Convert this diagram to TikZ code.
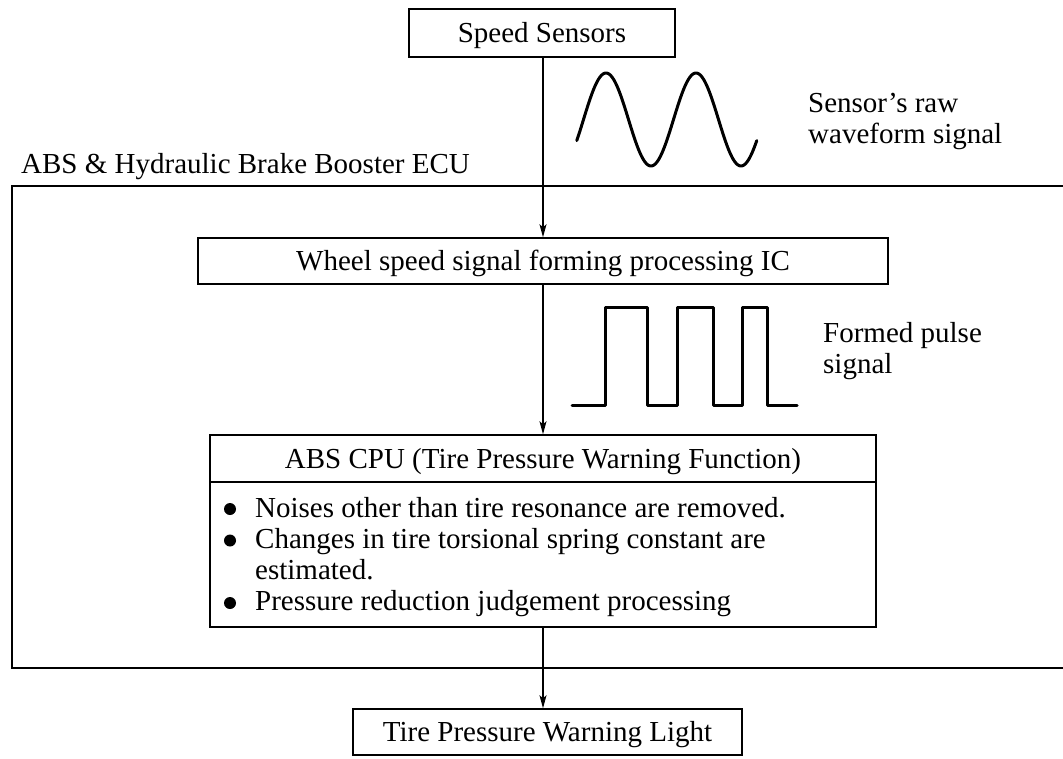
\documentclass[tikz,border=0pt]{standalone}
\usepackage{fontspec}
\setmainfont{Liberation Serif}
\usetikzlibrary{arrows.meta}
\begin{document}
\begin{tikzpicture}[x=1pt,y=-1pt,
  every node/.style={font=\fontsize{29}{31}\selectfont, inner sep=0pt},
  box/.style={draw, line width=1.5pt, text height=19pt, text depth=0pt},
  conn/.style={line width=1.2pt, -{Stealth[length=13pt,width=7pt,inset=3pt]}},
  wave/.style={line width=3pt, line join=round, line cap=round},
  dotmark/.style={circle, fill, minimum size=12pt},
  sidetext/.style={align=left, anchor=base west},
  linetext/.style={anchor=base west}]
\useasboundingbox (0,0) rectangle (1063,758);

% ECU enclosure, open to the right
\draw[line width=2pt] (1070,186) -- (12,186) -- (12,668) -- (1070,668);
\node[linetext] (ecu) at (21,173) {ABS \& Hydraulic Brake Booster ECU};

% blocks
\node[box, minimum width=266pt, minimum height=48pt] (sensors) at (542,33) {Speed Sensors};
\node[box, minimum width=690pt, minimum height=46pt] (forming) at (543,261) {Wheel speed signal forming processing IC};
\node[box, minimum width=666pt, minimum height=192pt] (cpu) at (543,531) {};
\node[text height=19pt, text depth=0pt] (cputitle) at (543,458.5) {ABS CPU (Tire Pressure Warning Function)};
\draw[line width=1.5pt] (cpu.west |- 0,482) -- (cpu.east |- 0,482);
\node[box, minimum width=389pt, minimum height=46pt] (light) at (547.5,732) {Tire Pressure Warning Light};

% CPU function list (multi-line nodes are placed by their last baseline)
\node[dotmark] (d1) at (230,509) {};
\node[linetext] (t1) at (255,517) {Noises other than tire resonance are removed.};
\node[dotmark] (d2) at (230,540.5) {};
\node[sidetext] (t2) at (255,579) {Changes in tire torsional spring constant are\\estimated.};
\node[dotmark] (d3) at (230,603) {};
\node[linetext] (t3) at (255,610.5) {Pressure reduction judgement processing};

% signal flow
\draw[conn] (forming.north |- sensors.south) -- (forming.north);
\draw[conn] (forming.south) -- (cpu.north);
\draw[conn] (cpu.south) -- (cpu.south |- light.north);

% raw sensor waveform
\draw[wave] plot[domain=-27:693, samples=160, smooth] ({606+(\x-90)/4},{119.5-46.5*sin(\x)});
\node[sidetext] (rawlbl) at (808,143) {Sensor’s raw\\waveform signal};

% formed pulse train
\draw[wave] (572,405) -- (605,405) -- (605,307) -- (647,307) -- (647,405) -- (677,405)
  -- (677,307) -- (713,307) -- (713,405) -- (742,405) -- (742,307) -- (767,307)
  -- (767,405) -- (797,405);
\node[sidetext] (pulselbl) at (823,373) {Formed pulse\\signal};
\end{tikzpicture}
\end{document}
